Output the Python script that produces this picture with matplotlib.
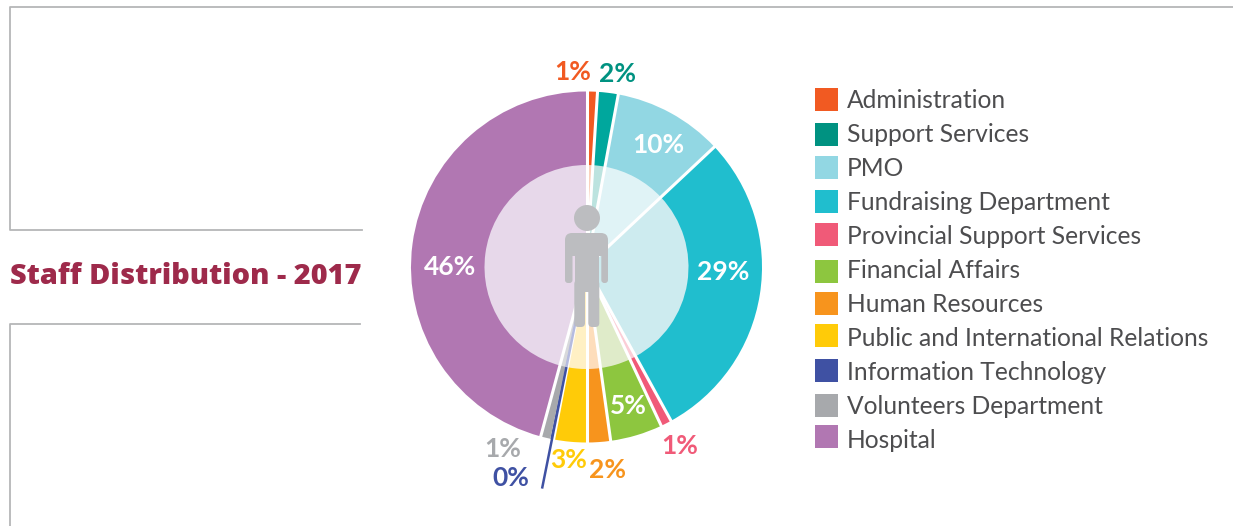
import matplotlib
matplotlib.use('Agg')
import matplotlib.pyplot as plt
import numpy as np
from matplotlib.patches import Circle, FancyBboxPatch, Rectangle

departments = ['Administration', 'Support Services', 'PMO', 'Fundraising Department',
               'Provincial Support Services', 'Financial Affairs', 'Human Resources',
               'Public and International Relations', 'Information Technology',
               'Volunteers Department', 'Hospital']
# wedge sizes, the labels are the rounded ones printed on it
shares = [1.0, 1.9, 10.1, 29.0, 1.0, 4.8, 2.2, 3.0, 0.3, 0.9, 45.8]
share_labels = ['1%', '2%', '10%', '29%', '1%', '5%', '2%', '3%', '0%', '1%', '46%']

colors = ['#F15A22', '#00A79D', '#92D7E3', '#20BECE', '#F05A78', '#8DC63F',
          '#F7941D', '#FFCB08', '#3F51A3', '#A7A9AC', '#B177B2']
legend_colors = ['#F15A22', '#009281', '#92D7E3', '#20BECE', '#F05A78', '#8DC63F',
                 '#F7941D', '#FFCB08', '#3F51A3', '#A7A9AC', '#B177B2']
pale_colors = ['#FBD0BC', '#BCE3DF', '#E0F3F6', '#CDEBEF', '#FBCDD6', '#DFEBC9',
               '#FDDDBB', '#FFF0C4', '#B5BBDF', '#D8D9DB', '#E7D8EA']
label_colors = ['#F15A22', '#009281', 'white', 'white', '#F05A78', 'white',
                '#F7941D', '#FFCB08', '#3F51A3', '#A7A9AC', 'white']
label_pos = [(573, 72), (618, 74), (658, 145), (723, 272), (680, 446), (628, 406),
             (607, 470), (569, 460), (511, 478), (503, 449), (450, 267)]
legend_y = [99.5, 134, 167.5, 201, 234.5, 271, 303, 335, 370, 405, 436]
text_y = [101, 135, 169, 203, 237, 271, 305, 339, 372, 406, 440]

W, H = 1233, 526
CX, CY = 586.5, 267
R_OUT, R_IN = 175.5, 102


def flip(y):
    return H - y


def polar(angle, r):
    # angle in degrees clockwise from 12 o'clock, result in axes units
    a = np.radians(angle)
    return CX + r * np.sin(a), flip(CY) + r * np.cos(a)


def rounded(ax, x0, y0, x1, y1, rad):
    ax.add_patch(FancyBboxPatch((x0, flip(y1)), x1 - x0, y1 - y0,
                                boxstyle=f'round,pad=0,rounding_size={rad}',
                                fc=grey, ec='none', zorder=5))


fig = plt.figure(figsize=(W / 100, H / 100), dpi=100)
ax = fig.add_axes([0, 0, 1, 1])

ax.pie(shares, colors=colors, startangle=90, counterclock=False, radius=R_OUT,
       center=(CX, flip(CY)), frame=True, wedgeprops={'edgecolor': 'none'})
ax.pie(shares, colors=pale_colors, startangle=90, counterclock=False, radius=R_IN,
       center=(CX, flip(CY)), frame=True, wedgeprops={'edgecolor': 'none'})

# white spokes between the wedges, none between IT and Volunteers
ends = np.cumsum(shares) * 3.6
for i, angle in enumerate(ends):
    if departments[i] == 'Information Technology':
        continue
    x1, y1 = polar(angle, R_OUT + 2)
    ax.plot([CX, x1], [flip(CY), y1], color='white', lw=2.2, solid_capstyle='butt', zorder=3)

# the Information Technology share is a thin line running past the ring
it = departments.index('Information Technology')
it_mid = ends[it] - shares[it] * 1.8
x0, y0 = polar(it_mid, R_IN)
x1, y1 = polar(it_mid, 226)
ax.plot([x0, x1], [y0, y1], color=colors[it], lw=1.8, solid_capstyle='butt', zorder=4)
x2, y2 = polar(it_mid, 50)
ax.plot([x2, x0], [y2, y0], color=pale_colors[it], lw=1.8, solid_capstyle='butt', zorder=4)

# person in the middle
grey = '#BCBDC0'
ax.add_patch(Circle((587, flip(218)), 13, fc=grey, ec='none', zorder=5))
rounded(ax, 565, 233, 608, 256, 7)
rounded(ax, 565, 245, 572.5, 283, 3)
rounded(ax, 601.3, 245, 608, 283, 3)
ax.add_patch(Rectangle((574.5, flip(292)), 24.8, 50, fc=grey, ec='none', zorder=5))
rounded(ax, 574.3, 280, 585, 327, 4)
rounded(ax, 588.3, 280, 599.3, 327, 4)

for lab, col, (x, y) in zip(share_labels, label_colors, label_pos):
    ax.text(x, flip(y), lab, color=col, fontsize=19, fontweight='bold', family='Lato',
            ha='center', va='center', zorder=7)

for name, col, ys, yt in zip(departments, legend_colors, legend_y, text_y):
    ax.add_patch(Rectangle((815, flip(ys) - 11.5), 23, 23, fc=col, ec='none'))
    ax.text(847, flip(yt), name, color='#4D4D4F', fontsize=17.7, family='Lato',
            ha='left', va='center')

ax.text(10, flip(276), 'Staff Distribution - 2017', color='#9E2A4B', fontsize=20.75,
        fontweight=800, family='Open Sans', ha='left', va='center')

# frame lines
line = '#B5B6B8'
ax.plot([1233, 10, 10, 362], [flip(7), flip(7), flip(230), flip(230)], color=line, lw=1.3)
ax.plot([360, 10, 10], [flip(324), flip(324), flip(526)], color=line, lw=1.3)

ax.set_xlim(0, W)
ax.set_ylim(0, H)
ax.set_aspect('equal')
ax.axis('off')

fig.savefig('out.png', dpi=100)
